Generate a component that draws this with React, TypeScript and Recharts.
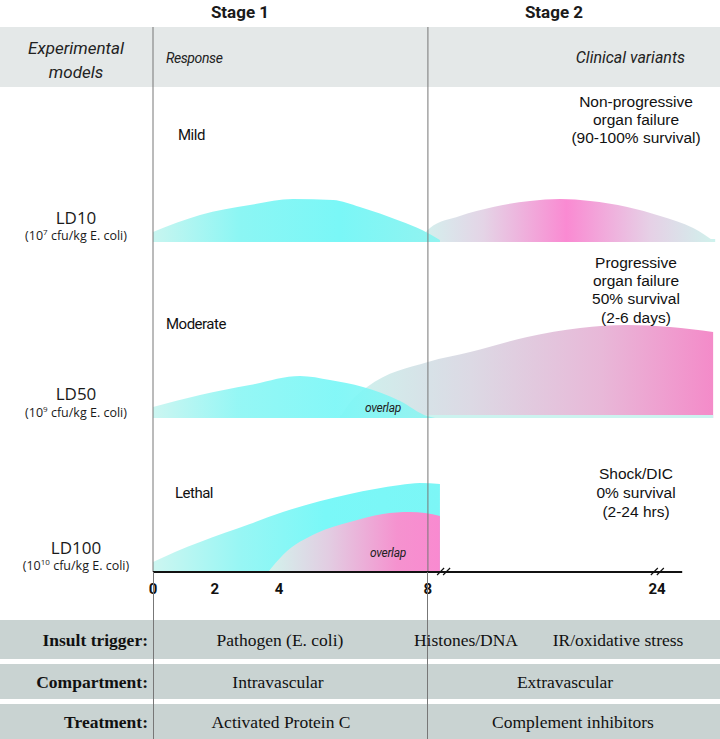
import type { CSSProperties, ReactNode } from "react";
import { Area, ComposedChart, ReferenceDot, ReferenceLine, XAxis, YAxis } from "recharts";

// x runs on the figure's broken time scale: 0-8 h wide, 8-24 h squeezed
const TICK_POS = [0, 1.8, 3.67, 8, 14.67];
const TICK_LABELS = ["0", "2", "4", "8", "24"];
const STAGE_SPLIT = 8;
const AXIS_END = 15.4;
const AXIS_BREAKS = [8.5, 14.72];

// [time, intensity]
const LD10_TRACE = [[0, 3], [16.36, 3]];
const LD10_RESPONSE = [[0, 10], [1.37, 27], [2.82, 37], [4.07, 43], [5.24, 42], [6.02, 35], [7.19, 21], [7.83, 12], [8.35, 2]];
const LD10_CLINICAL = [[7.71, 0], [8.06, 14], [8.93, 26], [9.9, 35], [10.97, 41], [11.85, 43], [12.72, 41], [13.8, 35], [14.76, 26], [15.72, 14], [16.36, 0]];
const LD50_TRACE = [[5.44, 3], [16.3, 3]];
const LD50_RESPONSE = [[0, 11], [1.37, 23], [2.82, 33], [4.28, 42], [5.15, 38], [6.11, 31], [7.19, 17], [7.97, 2], [8.21, 0]];
const LD50_CLINICAL = [[5.44, 0], [5.79, 18], [6.23, 31], [8.0, 56], [9.23, 66], [10.89, 81], [12.43, 90], [13.8, 93], [15.05, 91], [16.3, 86]];
const LD100_RESPONSE = [[0, 10], [0.64, 20], [1.37, 30], [2.82, 48], [3.78, 60], [5.73, 78], [7.19, 87], [7.77, 89], [8.35, 88]];
const LD100_CLINICAL = [[3.35, 0], [3.78, 17], [4.77, 39], [5.73, 50], [6.69, 58], [7.48, 60], [7.92, 59], [8.35, 56]];

const SERIES: Record<string, number[][]> = {
  ld10Trace: LD10_TRACE,
  ld10Response: LD10_RESPONSE,
  ld10Clinical: LD10_CLINICAL,
  ld50Trace: LD50_TRACE,
  ld50Response: LD50_RESPONSE,
  ld50Clinical: LD50_CLINICAL,
  ld100Response: LD100_RESPONSE,
  ld100Clinical: LD100_CLINICAL,
};

const MODELS = [
  { name: "LD10", dose: "7", severity: "Mild" },
  { name: "LD50", dose: "9", severity: "Moderate" },
  { name: "LD100", dose: "10", severity: "Lethal" },
];

const VARIANTS = [
  ["Non-progressive", "organ failure", "(90-100% survival)"],
  ["Progressive", "organ failure", "50% survival", "(2-6 days)"],
  ["Shock/DIC", "0% survival", "(2-24 hrs)"],
];

const TABLE_LABELS = ["Insult trigger:", "Compartment:", "Treatment:"];
const TABLE_CELLS = [
  ["Pathogen (E. coli)", "Histones/DNA", "IR/oxidative stress"],
  ["Intravascular", "Extravascular"],
  ["Activated Protein C", "Complement inhibitors"],
];

function buildRows() {
  const byT = new Map<number, Record<string, number>>();
  for (const [key, pts] of Object.entries(SERIES)) {
    for (const [t, v] of pts) {
      const row = byT.get(t) ?? { t };
      row[key] = v;
      byT.set(t, row);
    }
  }
  return [...byT.values()].sort((a, b) => a.t - b.t);
}

type TxtProps = {
  x: number;
  y: number;
  anchor?: "start" | "middle" | "end";
  lh?: number;
  style?: CSSProperties;
  children: ReactNode;
};

function Txt({ x, y, anchor = "start", lh = 20, style, children }: TxtProps) {
  const pos: CSSProperties =
    anchor === "start"
      ? { left: x }
      : anchor === "end"
        ? { right: 720 - x, textAlign: "right" }
        : { left: x - 150, width: 300, textAlign: "center" };
  return (
    <div
      style={{
        position: "absolute",
        top: y - lh / 2,
        lineHeight: `${lh}px`,
        whiteSpace: "nowrap",
        color: "#1a1a1a",
        ...pos,
        ...style,
      }}
    >
      {children}
    </div>
  );
}

function BreakMark({ cx, cy }: { cx?: number; cy?: number }) {
  if (cx == null || cy == null) return null;
  return (
    <g stroke="#111" strokeWidth={1.2}>
      <line x1={cx - 8} y1={cy + 3} x2={cx - 1} y2={cy - 4} />
      <line x1={cx - 2} y1={cy + 3} x2={cx + 5} y2={cy - 4} />
    </g>
  );
}

const sans = "Roboto, 'Open Sans', sans-serif";
const serif = "'Liberation Serif', 'DejaVu Serif', serif";

const MODEL_Y = [
  { label: 218, dose: 236, severity: 135 },
  { label: 394, dose: 413, severity: 324 },
  { label: 548, dose: 566, severity: 493 },
];
const SEVERITY_X = [178, 166, 175];
const VARIANT_Y = [{ top: 102, lh: 18 }, { top: 263, lh: 18.3 }, { top: 473, lh: 19 }];
const BANDS = [{ top: 620, h: 39 }, { top: 664, h: 35 }, { top: 704, h: 35 }];
const CELL_X = [[280, 466, 618], [278, 565], [281, 573]];

export default function App() {
  const rows = buildRows();
  return (
    <div style={{ position: "absolute", left: 0, top: 0, width: 720, height: 739, background: "#fff", overflow: "hidden" }}>
      <div style={{ position: "absolute", left: 0, top: 27, width: 720, height: 60, background: "#e4e8e8" }} />
      {BANDS.map((b) => (
        <div key={b.top} style={{ position: "absolute", left: 0, top: b.top, width: 720, height: b.h, background: "#c9d3d2" }} />
      ))}

      <div style={{ position: "absolute", left: 0, top: 0 }}>
        <ComposedChart width={720} height={600} data={rows} margin={{ top: 27, right: 0, bottom: 0, left: 153 }}>
          <defs>
            <linearGradient id="cyanFade" x1="0" y1="0" x2="1" y2="0">
              <stop offset="0%" stopColor="#c8f5f0" />
              <stop offset="30%" stopColor="#8cf6f4" />
              <stop offset="65%" stopColor="#7af7f7" />
              <stop offset="100%" stopColor="#92f3f0" />
            </linearGradient>
            <linearGradient id="cyanRise" x1="0" y1="0" x2="1" y2="0">
              <stop offset="0%" stopColor="#cdf6f1" />
              <stop offset="30%" stopColor="#98f6f4" />
              <stop offset="60%" stopColor="#7af8f8" />
              <stop offset="100%" stopColor="#7cf6f6" />
            </linearGradient>
            <linearGradient id="pinkHump" x1="0" y1="0" x2="1" y2="0">
              <stop offset="0%" stopColor="#d2f3ee" />
              <stop offset="22%" stopColor="#e4d4e6" />
              <stop offset="50%" stopColor="#fa8ad2" />
              <stop offset="78%" stopColor="#e6d0e6" />
              <stop offset="100%" stopColor="#d0f2ec" />
            </linearGradient>
            <linearGradient id="pinkLong" x1="0" y1="0" x2="1" y2="0">
              <stop offset="0%" stopColor="#cdf4ee" />
              <stop offset="35%" stopColor="#dcd9e4" />
              <stop offset="70%" stopColor="#e8b8d8" />
              <stop offset="100%" stopColor="#f48bc9" />
            </linearGradient>
            <linearGradient id="pinkShort" x1="0" y1="0" x2="1" y2="0">
              <stop offset="0%" stopColor="#d2f3ec" />
              <stop offset="35%" stopColor="#e2cde2" />
              <stop offset="75%" stopColor="#f592cf" />
              <stop offset="100%" stopColor="#f98ad0" />
            </linearGradient>
          </defs>
          <XAxis
            dataKey="t"
            type="number"
            domain={[0, 16.5]}
            allowDataOverflow
            ticks={TICK_POS}
            tickFormatter={(v) => TICK_LABELS[TICK_POS.indexOf(Number(v))] ?? ""}
            axisLine={false}
            tickLine={false}
            tickMargin={5}
            height={28}
            interval={0}
            tick={{ fontSize: 15, fontWeight: 700, fill: "#111", fontFamily: sans }}
          />
          <YAxis yAxisId="ld10" hide domain={[-330, 215]} allowDataOverflow />
          <YAxis yAxisId="ld50" hide domain={[-154, 391]} allowDataOverflow />
          <YAxis yAxisId="ld100" hide domain={[0, 545]} allowDataOverflow />

          <Area yAxisId="ld10" dataKey="ld10Trace" type="linear" stroke="none" fill="#ccf3ef" fillOpacity={1} baseValue={0} connectNulls dot={false} activeDot={false} isAnimationActive={false} />
          <Area yAxisId="ld10" dataKey="ld10Clinical" type="monotone" stroke="none" fill="url(#pinkHump)" fillOpacity={1} baseValue={0} connectNulls dot={false} activeDot={false} isAnimationActive={false} />
          <Area yAxisId="ld10" dataKey="ld10Response" type="monotone" stroke="none" fill="url(#cyanFade)" fillOpacity={1} baseValue={0} connectNulls dot={false} activeDot={false} isAnimationActive={false} />

          <Area yAxisId="ld50" dataKey="ld50Clinical" type="monotone" stroke="none" fill="url(#pinkLong)" fillOpacity={1} baseValue={0} connectNulls dot={false} activeDot={false} isAnimationActive={false} />
          <Area yAxisId="ld50" dataKey="ld50Trace" type="linear" stroke="none" fill="#ccf3ef" fillOpacity={1} baseValue={0} connectNulls dot={false} activeDot={false} isAnimationActive={false} />
          <Area yAxisId="ld50" dataKey="ld50Response" type="monotone" stroke="none" fill="url(#cyanFade)" fillOpacity={0.92} baseValue={0} connectNulls dot={false} activeDot={false} isAnimationActive={false} />

          <Area yAxisId="ld100" dataKey="ld100Response" type="monotone" stroke="none" fill="url(#cyanRise)" fillOpacity={1} baseValue={0} connectNulls dot={false} activeDot={false} isAnimationActive={false} />
          <Area yAxisId="ld100" dataKey="ld100Clinical" type="monotone" stroke="none" fill="url(#pinkShort)" fillOpacity={1} baseValue={0} connectNulls dot={false} activeDot={false} isAnimationActive={false} />

          <ReferenceLine yAxisId="ld100" x={0} stroke="#777" strokeWidth={1} />
          <ReferenceLine yAxisId="ld100" x={STAGE_SPLIT} stroke="#777" strokeWidth={1} />
          <ReferenceLine
            yAxisId="ld100"
            segment={[{ x: 0, y: 0 }, { x: AXIS_END, y: 0 }]}
            stroke="#111"
            strokeWidth={2}
          />
          {AXIS_BREAKS.map((b) => (
            <ReferenceDot
              key={b}
              yAxisId="ld100"
              x={b}
              y={0}
              r={0}
              shape={(p: { cx?: number; cy?: number }) => <BreakMark cx={p.cx} cy={p.cy} />}
            />
          ))}
        </ComposedChart>
      </div>

      <div style={{ position: "absolute", left: 153, top: 572, width: 1, height: 167, background: "#777" }} />
      <div style={{ position: "absolute", left: 427, top: 572, width: 1, height: 167, background: "#777" }} />

      <Txt x={240} y={12} anchor="middle" style={{ fontFamily: sans, fontWeight: 700, fontSize: 17 }}>Stage 1</Txt>
      <Txt x={554} y={12} anchor="middle" style={{ fontFamily: sans, fontWeight: 700, fontSize: 17 }}>Stage 2</Txt>
      <Txt x={76} y={48} anchor="middle" lh={24} style={{ fontFamily: sans, fontStyle: "italic", fontSize: 17, color: "#222" }}>
        Experimental<br />models
      </Txt>
      <Txt x={166} y={58} style={{ fontFamily: sans, fontStyle: "italic", fontSize: 14, letterSpacing: -0.4, color: "#222" }}>Response</Txt>
      <Txt x={685} y={58} anchor="end" style={{ fontFamily: sans, fontStyle: "italic", fontSize: 16, color: "#222" }}>Clinical variants</Txt>

      {MODELS.map((m, i) => (
        <div key={m.name}>
          <Txt x={76} y={MODEL_Y[i].label} anchor="middle" style={{ fontFamily: "'Open Sans', sans-serif", fontSize: 17 }}>{m.name}</Txt>
          <Txt x={76} y={MODEL_Y[i].dose} anchor="middle" lh={16} style={{ fontFamily: "'Open Sans', sans-serif", fontSize: 12.5 }}>
            (10<sup style={{ fontSize: 8, verticalAlign: "5px", lineHeight: 0 }}>{m.dose}</sup> cfu/kg E. coli)
          </Txt>
          <Txt x={SEVERITY_X[i]} y={MODEL_Y[i].severity} style={{ fontFamily: sans, fontSize: 15, letterSpacing: -0.5, color: "#111" }}>{m.severity}</Txt>
        </div>
      ))}

      <Txt x={383} y={408} anchor="middle" style={{ fontFamily: sans, fontStyle: "italic", fontSize: 12, letterSpacing: -0.3, color: "#222" }}>overlap</Txt>
      <Txt x={388} y={553} anchor="middle" style={{ fontFamily: sans, fontStyle: "italic", fontSize: 12, letterSpacing: -0.3, color: "#222" }}>overlap</Txt>

      {VARIANTS.map((lines, i) => (
        <Txt key={i} x={636} y={VARIANT_Y[i].top} anchor="middle" lh={VARIANT_Y[i].lh} style={{ fontFamily: "'Liberation Sans', Arial, sans-serif", fontSize: 15.5, color: "#111" }}>
          {lines.map((l, j) => (
            <div key={j}>{l}</div>
          ))}
        </Txt>
      ))}

      {TABLE_LABELS.map((label, i) => {
        const cy = BANDS[i].top + BANDS[i].h / 2;
        return (
          <div key={label}>
            <Txt x={148} y={cy} anchor="end" style={{ fontFamily: serif, fontWeight: 700, fontSize: 17.5, color: "#111" }}>{label}</Txt>
            {TABLE_CELLS[i].map((c, j) => (
              <Txt key={c} x={CELL_X[i][j]} y={cy} anchor="middle" style={{ fontFamily: serif, fontSize: 17.5, color: "#111" }}>{c}</Txt>
            ))}
          </div>
        );
      })}
    </div>
  );
}
